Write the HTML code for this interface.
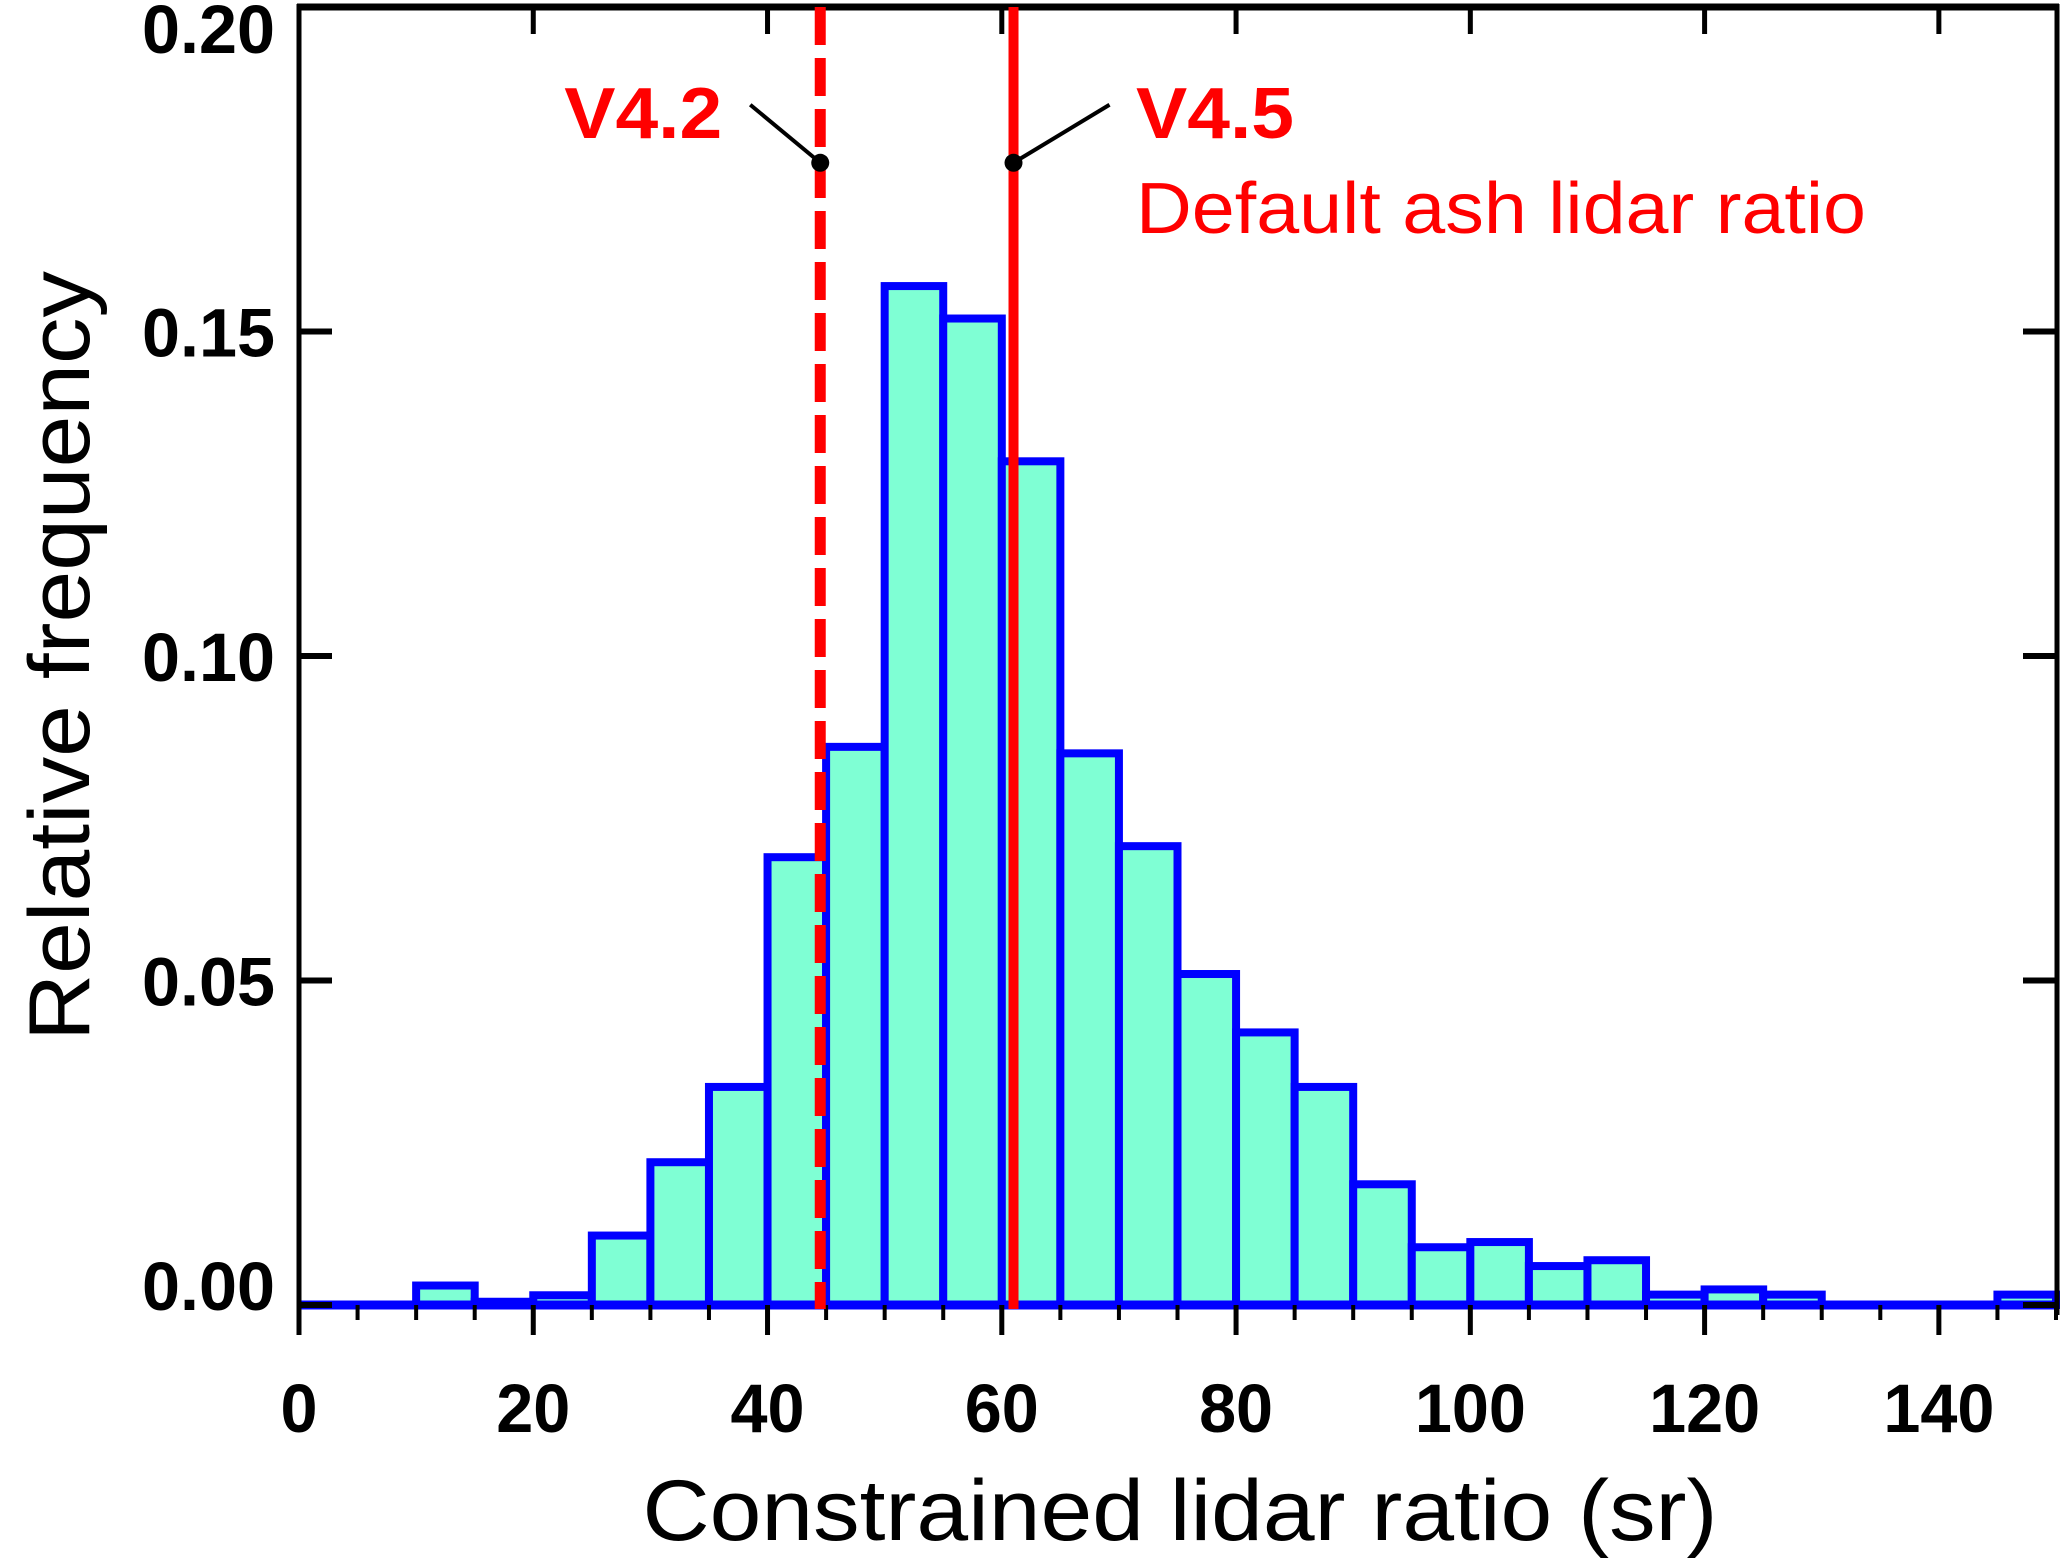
<!DOCTYPE html>
<html><head><meta charset="utf-8"><style>
html,body{margin:0;padding:0;background:#fff}
svg{display:block}
text{font-family:"Liberation Sans",sans-serif}
</style></head><body>
<svg id="chart" width="2067" height="1563" viewBox="0 0 2067 1563" xmlns="http://www.w3.org/2000/svg">
<g id="bars"></g>
<g id="axes"></g>
<g id="annot"></g>
</svg>
<script>
const binStarts = [0,5,10,15,20,25,30,35,40,45,50,55,60,65,70,75,80,85,90,95,100,105,110,115,120,125,130,135,140,145];
const freqs = [0,0,0.003,0.0005,0.0015,0.0107,0.022,0.0336,0.069,0.086,0.157,0.152,0.130,0.085,0.0707,0.051,0.042,0.0336,0.0186,0.0089,0.0097,0.006,0.0069,0.0016,0.0024,0.0016,0,0,0,0.0016];
const binWidth = 5;
const xTicks = [0,20,40,60,80,100,120,140];
const xMinorTicks = [5,10,15,25,30,35,45,50,55,65,70,75,85,90,95,105,110,115,125,130,135,145,150];
const yTicks = [0,0.05,0.10,0.15,0.20];
const yTickLabels = ["0.00","0.05","0.10","0.15","0.20"];
const refLines = [44.5, 61];
const refLineLabels = ["V4.2","V4.5"];
const markerY = 0.176;

const NS="http://www.w3.org/2000/svg";
const X0=299,X1=2056,Y0=1305,Y1=7;
const xs=v=>X0+(v/150)*(X1-X0);
const ys=v=>Y0-(v/0.2)*(Y0-Y1);
function mk(tag,attrs,parent,txt){const e=document.createElementNS(NS,tag);for(const k in attrs)e.setAttribute(k,attrs[k]);if(txt!==undefined)e.textContent=txt;parent.appendChild(e);return e;}
function tl(s){let w=0;for(const c of s)w+=(c==='.')?22:37;return w;}
const bars=document.getElementById('bars'),axes=document.getElementById('axes'),ann=document.getElementById('annot');

binStarts.forEach((b,i)=>{
  if(freqs[i]<=0)return;
  const r=mk('rect',{x:xs(b),y:ys(freqs[i]),width:xs(b+binWidth)-xs(b),height:Y0-ys(freqs[i]),fill:'#7fffd4',stroke:'#0000ff','stroke-width':8},bars);
  
  
});
const base=mk('line',{x1:X0,x2:X1,y1:Y0,y2:Y0,stroke:'#0000ff','stroke-width':9},bars);



mk('line',{x1:X0,x2:X0,y1:Y1-3,y2:Y0+30,stroke:'#000','stroke-width':5},axes);
mk('line',{x1:X1+1,x2:X1+1,y1:Y1-3,y2:Y0+10,stroke:'#000','stroke-width':5},axes);
mk('line',{x1:X0-2,x2:X1+3,y1:Y1,y2:Y1,stroke:'#000','stroke-width':7},axes);

xTicks.forEach(t=>{
  const x=xs(t);
  mk('line',{x1:x,x2:x,y1:Y0,y2:Y0+30,stroke:'#000','stroke-width':5},axes);
  if(t>0) mk('line',{x1:x,x2:x,y1:Y1,y2:Y1+27,stroke:'#000','stroke-width':5},axes);
  const s=String(t);
  const l=mk('text',{x:x,y:1432,'text-anchor':'middle','font-size':69,'font-weight':'bold',textLength:tl(s),lengthAdjust:'spacingAndGlyphs'},axes,s);
  
  
});
xMinorTicks.forEach(t=>{
  const x=xs(t);
  mk('line',{x1:x,x2:x,y1:Y0,y2:Y0+15,stroke:'#000','stroke-width':4},axes);
});
yTicks.forEach((t,i)=>{
  const y=ys(t);
  mk('line',{x1:X0,x2:X0+33,y1:y,y2:y,stroke:'#000','stroke-width':6},axes);
  mk('line',{x1:X1-33,x2:X1,y1:y,y2:y,stroke:'#000','stroke-width':6},axes);
  let cy=y; if(i===0)cy=1285; if(i===yTicks.length-1)cy=28;
  const s=yTickLabels[i];
  const l=mk('text',{x:275-tl(s),y:cy+25,'font-size':69,'font-weight':'bold',textLength:tl(s),lengthAdjust:'spacingAndGlyphs'},axes,s);
  
  
});
const xt=mk('text',{x:1180,y:1540,'text-anchor':'middle','font-size':86,textLength:1075,lengthAdjust:'spacingAndGlyphs'},axes,'Constrained lidar ratio (sr)');


const yt=mk('text',{x:0,y:0,'text-anchor':'middle','font-size':86,textLength:770,lengthAdjust:'spacingAndGlyphs',transform:'translate(89,656) rotate(-90)'},axes,'Relative frequency');



refLines.forEach((v,i)=>{
  const x=xs(v);
  const ln=mk('line',{x1:x,x2:x,y1:Y1,y2:Y0+4,stroke:'#ff0000','stroke-width':i===0?11:10},ann);
  if(i===0) ln.setAttribute('stroke-dasharray','38 13');
  
  
  const my=ys(markerY);
  const dot=mk('circle',{cx:x,cy:my,r:9,fill:'#000'},ann);
  
  
  const ex=i===0?x-70:x+96;
  mk('line',{x1:x,y1:my,x2:ex,y2:my-58,stroke:'#000','stroke-width':4},ann);
});
const l1=mk('text',{x:xs(refLines[0])-98,y:138,'text-anchor':'end','font-size':72,'font-weight':'bold',fill:'#ff0000',textLength:158,lengthAdjust:'spacingAndGlyphs'},ann,'V4.2');


const l2=mk('text',{x:1136,y:138,'font-size':72,'font-weight':'bold',fill:'#ff0000',textLength:158,lengthAdjust:'spacingAndGlyphs'},ann,'V4.5');


const l3=mk('text',{x:1136,y:233,'font-size':72,fill:'#ff0000',textLength:730,lengthAdjust:'spacingAndGlyphs'},ann,'Default ash lidar ratio');


</script>
</body></html>
